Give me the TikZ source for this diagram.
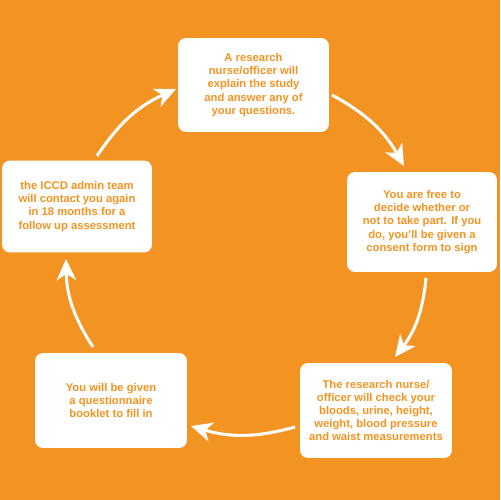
\documentclass[tikz,border=0pt]{standalone}
\usepackage{fontspec}
\setmainfont{Liberation Sans}
\usetikzlibrary{arrows.meta}
\definecolor{bgorange}{HTML}{F39422}
\tikzset{
  card/.style={fill=white, rounded corners=0.16cm, inner sep=0pt, align=center,
    text=bgorange, font=\fontsize{6.4}{7.5}\selectfont\bfseries},
  arr/.style={draw=white, line width=1.7pt,
    -{Stealth[length=12pt,width=11pt,inset=3.5pt]}, bend left=16}
}
\begin{document}
\begin{tikzpicture}[x=0.02cm,y=-0.02cm]
\fill[bgorange] (0,0) rectangle (500,500);
\useasboundingbox (0,0) rectangle (500,500);
\node[card, minimum width=3.02cm, minimum height=1.88cm] (b1) at (253.5,85)
  {A research\\nurse/officer will\\explain the study\\and answer any of\\your questions.};
\node[card, minimum width=3.0cm, minimum height=2.0cm] (b2) at (422,222)
  {You are free to\\decide whether or\\not to take part. If you\\do, you'll be given a\\consent form to sign};
\node[card, minimum width=3.04cm, minimum height=1.9cm] (b3) at (376,410.5)
  {The research nurse/\\officer will check your\\bloods, urine, height,\\weight, blood pressure\\and waist measurements};
\node[card, minimum width=3.04cm, minimum height=1.9cm] (b5) at (111,400.5)
  {You will be given\\a questionnaire\\booklet to fill in};
\node[card, minimum width=3.0cm, minimum height=1.84cm] (b4) at (77,206.5)
  {the ICCD admin team\\will contact you again\\in 18 months for a\\follow up assessment};
\coordinate (a1s) at (332,95);  \coordinate (a1e) at (404,166);
\coordinate (a2s) at (426,278); \coordinate (a2e) at (395,357);
\coordinate (a3s) at (295,427); \coordinate (a3e) at (191,426);
\coordinate (a4s) at (93,347);  \coordinate (a4e) at (66,259);
\coordinate (a5s) at (97,156);  \coordinate (a5e) at (176,89);
\draw[arr] (a1s) to (a1e);
\draw[arr] (a2s) to (a2e);
\draw[arr] (a3s) to (a3e);
\draw[arr] (a4s) to (a4e);
\draw[arr] (a5s) to (a5e);
\end{tikzpicture}
\end{document}
